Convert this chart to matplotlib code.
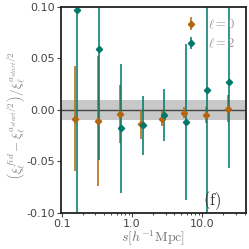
import numpy as np
import matplotlib
matplotlib.use('Agg')
import matplotlib.pyplot as plt
import matplotlib.ticker as ticker
from matplotlib.colors import to_rgba

plt.rcParams['mathtext.fontset'] = 'cm'
plt.rcParams['font.family'] = 'DejaVu Sans'

# separations [h^-1 Mpc]
s = [0.158, 0.332, 0.685, 1.39, 2.77, 5.62, 11.5, 23.5]

# l = 0
xi0 = [-0.0085, -0.011, -0.004, -0.014, -0.0085, -0.0025, -0.005, 0.0012]
err0 = [0.051, 0.063, 0.028, 0.014, 0.007, 0.0055, 0.0075, 0.013]

# l = 2
xi2 = [0.097, 0.059, -0.018, -0.015, -0.005, -0.0115, 0.019, 0.027]
err2 = [0.23, 0.108, 0.0625, 0.029, 0.0255, 0.0755, 0.15, 0.083]

c0 = '#b3650f'
c2 = '#00786a'

fig = plt.figure(figsize=(2.49, 2.49), dpi=100)
ax = fig.add_axes([0.245, 0.145, 0.743, 0.827])

ax.axhspan(-0.01, 0.01, color='#c8c8c8', lw=0, zorder=0)
ax.axhline(0, color='#444444', lw=1.0, zorder=1)

s = np.array(s)
ax.errorbar(s / 1.027, xi0, yerr=err0, fmt='D', ms=3.2, color=c0,
            ecolor=to_rgba(c0, 0.8), elinewidth=1.4, capsize=0, label=r'$\ell=0$')
ax.errorbar(s * 1.027, xi2, yerr=err2, fmt='D', ms=3.2, color=c2,
            ecolor=to_rgba(c2, 0.8), elinewidth=1.4, capsize=0, label=r'$\ell=2$')

ax.set_xscale('log')
ax.set_xlim(0.097, 42)
ax.set_ylim(-0.10, 0.10)
ax.set_yticks([-0.10, -0.05, 0.0, 0.05, 0.10])
ax.yaxis.set_major_formatter(ticker.FormatStrFormatter('%.2f'))
ax.set_xticks([0.1, 1.0, 10.0])
ax.xaxis.set_major_formatter(ticker.FormatStrFormatter('%.1f'))

for sp in ax.spines.values():
    sp.set_linewidth(1.3)
    sp.set_color('#222222')
ax.tick_params(labelsize=8, colors='#444444', length=3, width=0.8, pad=1.5)
ax.tick_params(which='minor', length=1.5, width=0.5)

ax.set_xlabel(r'$s[h^{-1}{\rm Mpc}]$', fontsize=10, color='#777777', labelpad=0)
ax.set_ylabel(r'$\left(\xi_\ell^{fid}-\xi_\ell^{a_{start}/2}\right)/\xi_\ell^{a_{start}/2}$',
              fontsize=9.5, color='#888888')
ax.yaxis.set_label_coords(-0.18, 0.47)

ax.text(0.77, 0.04, r'$(\mathrm{f})$', transform=ax.transAxes, fontsize=12,
        color='#333333')

leg = ax.legend(loc='upper right', frameon=False, fontsize=9,
                handlelength=1.2, handletextpad=0.8, borderaxespad=0.45)
for t in leg.get_texts():
    t.set_color('#999999')

fig.savefig('out.png', dpi=100)
